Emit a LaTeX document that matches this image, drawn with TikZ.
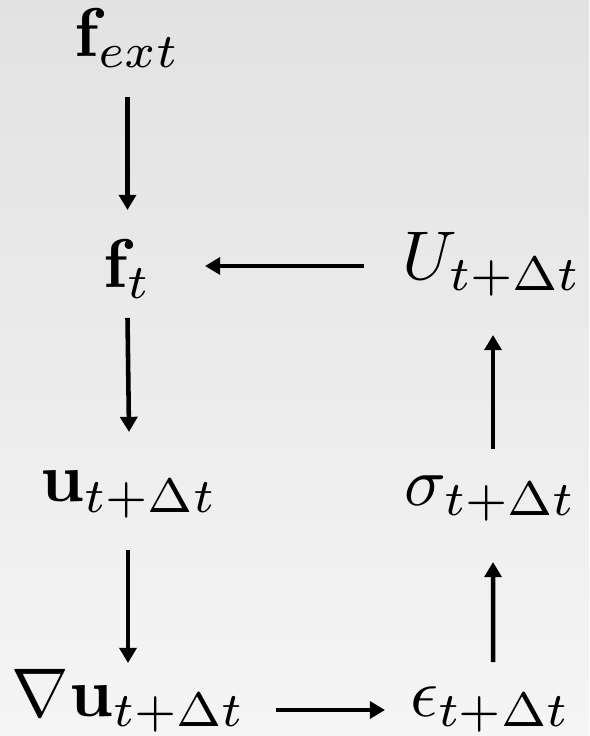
\documentclass[tikz,border=0pt]{standalone}
\usetikzlibrary{arrows.meta}
\definecolor{bgtop}{RGB}{226,226,226}
\definecolor{bgbot}{RGB}{245,245,245}
\begin{document}
\begin{tikzpicture}[x=0.145pt,y=-0.145pt,
  lbl/.style={anchor=base,inner sep=0pt},
  arr/.style={line width=0.66pt,-{Triangle[length=2.2pt,width=2.45pt]}}]
\useasboundingbox (0,0) rectangle (589,736);
\shade[top color=bgtop,bottom color=bgbot] (0,0) rectangle (589,736);
\node[lbl] (fext) at (127.5,57) {$\mathbf{f}_{ext}$};
\node[lbl] (ft) at (127.5,288) {$\mathbf{f}_t$};
\node[lbl] (u) at (129,502) {$\mathbf{u}_{t+\Delta t}$};
\node[lbl] (grad) at (129,716) {$\nabla\mathbf{u}_{t+\Delta t}$};
\node[lbl] (U) at (492,280) {$U_{t+\Delta t}$};
\node[lbl] (sigma) at (491,505) {$\sigma_{t+\Delta t}$};
\node[lbl] (eps) at (490.5,716) {$\epsilon_{t+\Delta t}$};
\draw[arr] ([shift={(0,40)}]fext.base) -- ([shift={(0,-78)}]ft.base);
\draw[arr] ([shift={(0,30)}]ft.base) -- ([shift={(0,-70)}]u.base);
\draw[arr] ([shift={(-1,48)}]u.base) -- ([shift={(-1,-53)}]grad.base);
\draw[arr] ([shift={(147,-6)}]grad.base) -- ([shift={(-105.5,-6)}]eps.base);
\draw[arr] ([shift={(2.5,-54)}]eps.base) -- ([shift={(2,57)}]sigma.base);
\draw[arr] ([shift={(2,-56)}]sigma.base) -- ([shift={(1,55)}]U.base);
\draw[arr] ([shift={(-128,-14)}]U.base) -- ([shift={(77.5,-22)}]ft.base);
\end{tikzpicture}
\end{document}
